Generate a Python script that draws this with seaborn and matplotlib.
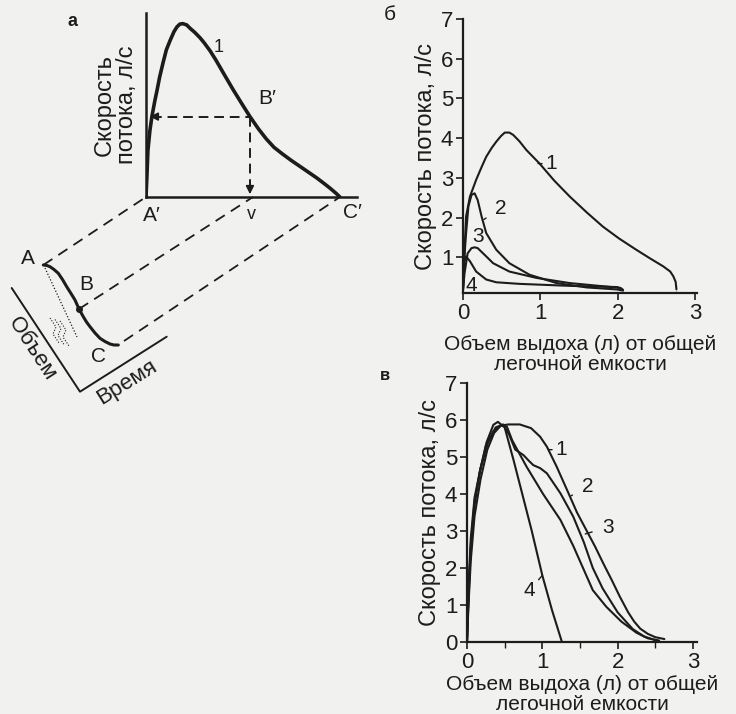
import numpy as np
import pandas as pd
import matplotlib
matplotlib.use("Agg")
import matplotlib.pyplot as plt
import seaborn as sns

# ---------------- data ----------------
# panel a : schematic flow-volume curve (relative units)
a_volume = [0, 0.005, 0.01, 0.02, 0.03, 0.045, 0.057, 0.07, 0.088, 0.105, 0.124, 0.145, 0.16, 0.175,
            0.19, 0.21, 0.227, 0.25, 0.278, 0.30, 0.33, 0.36, 0.40, 0.45, 0.50, 0.536, 0.58, 0.62, 0.66,
            0.706, 0.75, 0.80, 0.84, 0.88, 0.92, 0.95, 0.98, 1.0]
a_flow = [0, 0.12, 0.255, 0.36, 0.435, 0.52, 0.58, 0.65, 0.73, 0.80, 0.85, 0.90, 0.925, 0.94,
          0.942, 0.935, 0.917, 0.896, 0.866, 0.838, 0.795, 0.745, 0.672, 0.582, 0.497, 0.437, 0.37, 0.316, 0.27,
          0.232, 0.198, 0.162, 0.133, 0.104, 0.072, 0.047, 0.02, 0.0]
a_point_B = (0.536, 0.437)

# panel б : flow (l/s) vs expired volume (l), curves 1-4
b1_x = [0, 0.01, 0.02, 0.04, 0.09, 0.17, 0.24, 0.30, 0.37, 0.43, 0.49, 0.54, 0.60, 0.65, 0.73, 0.82,
        0.99, 1.18, 1.38, 1.60, 1.81, 2.02, 2.24, 2.42, 2.59, 2.68, 2.72, 2.75, 2.76, 2.76]
b1_y = [0.18, 0.7, 1.19, 2.03, 2.53, 2.95, 3.27, 3.53, 3.75, 3.91, 4.05, 4.14, 4.14, 4.08, 3.92, 3.70,
        3.36, 2.93, 2.53, 2.13, 1.77, 1.47, 1.19, 0.97, 0.77, 0.64, 0.52, 0.38, 0.27, 0.12]
b2_x = [0, 0.01, 0.04, 0.07, 0.11, 0.15, 0.19, 0.24, 0.30, 0.43, 0.60, 0.86, 1.21, 1.60, 1.99, 2.07]
b2_y = [0.18, 0.77, 1.61, 2.28, 2.57, 2.61, 2.44, 2.03, 1.61, 1.19, 0.85, 0.56, 0.35, 0.24, 0.19, 0.16]
b3_x = [0, 0.02, 0.06, 0.11, 0.15, 0.19, 0.28, 0.39, 0.60, 0.95, 1.38, 1.81, 2.03, 2.07]
b3_y = [0.18, 0.60, 1.10, 1.23, 1.25, 1.23, 1.06, 0.85, 0.64, 0.48, 0.35, 0.27, 0.23, 0.18]
b4_x = [0, 0.01, 0.04, 0.09, 0.17, 0.30, 0.43, 0.73, 1.38, 1.99, 2.05]
b4_y = [0.18, 0.85, 1.02, 0.90, 0.64, 0.44, 0.37, 0.33, 0.28, 0.25, 0.21]

# panel в : flow (l/s) vs expired volume (l), curves 1-4
c1_x = [0, 0.02, 0.05, 0.10, 0.17, 0.25, 0.35, 0.45, 0.55, 0.70, 0.85, 0.97, 1.06, 1.19, 1.33,
        1.46, 1.58, 1.70, 1.81, 1.92, 2.03, 2.14, 2.22, 2.30, 2.40, 2.50, 2.62]
c1_y = [0, 1.2, 2.5, 3.7, 4.6, 5.3, 5.7, 5.85, 5.88, 5.88, 5.78, 5.55, 5.28, 4.74, 4.10,
        3.50, 3.04, 2.58, 2.12, 1.68, 1.22, 0.80, 0.55, 0.36, 0.22, 0.13, 0.08]
c2_x = [0, 0.02, 0.05, 0.10, 0.18, 0.28, 0.38, 0.48, 0.56, 0.64, 0.70, 0.75, 0.82, 0.88, 0.97,
        1.06, 1.24, 1.41, 1.55, 1.67, 1.80, 2.00, 2.20, 2.35, 2.50]
c2_y = [0, 1.3, 2.6, 3.8, 4.7, 5.4, 5.8, 5.88, 5.60, 5.20, 5.12, 5.05, 4.90, 4.78, 4.70,
        4.56, 4.02, 3.39, 2.70, 2.00, 1.45, 0.80, 0.35, 0.15, 0.05]
c3_x = [0, 0.02, 0.05, 0.10, 0.18, 0.27, 0.36, 0.45, 0.53, 0.60, 0.79, 1.01, 1.24, 1.41, 1.54,
        1.67, 1.85, 2.05, 2.25, 2.40, 2.55]
c3_y = [0, 1.0, 2.2, 3.4, 4.4, 5.2, 5.65, 5.85, 5.82, 5.45, 4.74, 4.00, 3.30, 2.60, 2.00,
        1.40, 0.95, 0.55, 0.25, 0.10, 0.04]
c4_x = [0, 0.02, 0.05, 0.10, 0.17, 0.26, 0.35, 0.41, 0.50, 0.62, 0.74, 0.86, 1.00, 1.13, 1.26]
c4_y = [0, 1.5, 2.8, 3.9, 4.6, 5.4, 5.87, 5.95, 5.80, 4.90, 3.95, 3.00, 1.80, 0.85, 0.0]

flow_ticks_b = [1, 2, 3, 4, 5, 6, 7]
flow_ticks_c = [0, 1, 2, 3, 4, 5, 6, 7]
volume_ticks = [0, 1, 2, 3]
volume_minor_c = [0.5, 1.5, 2.5]

ylabel_a = "Скорость\nпотока, л/с"
ylabel_bc = "Скорость потока, л/с"
xlabel_bc = "Объем выдоха (л) от общей\nлегочной емкости"

# schematic volume-time trace (pixel frame of the sketch)
sk_curve_x = [43.3, 47, 50, 54, 58.3, 62.5, 66.7, 71, 75, 79, 83.3, 86.5, 90, 95, 100, 105, 110, 114, 118.3]
sk_curve_y = [265, 265.5, 266.7, 269.5, 273.3, 279.5, 286.7, 293.5, 300, 309, 316.7, 322, 326.7, 333, 338.3, 341.5, 344, 345, 345]
sk_axis_x = [11.7, 80, 166.7]
sk_axis_y = [288, 391.7, 336.7]

# ---------------- style ----------------
sns.set_theme(style="ticks")
plt.rcParams['font.family'] = ['Liberation Sans', 'DejaVu Sans']
INK = '#1c1c1c'
BG = '#f1f1ef'
FS_TICK = 16
FS_X = 15
FS_Y = 17
FS_LBL = 15
plt.rcParams.update({
    'axes.edgecolor': INK, 'xtick.color': INK, 'ytick.color': INK,
    'text.color': INK, 'axes.labelcolor': INK,
})

W, H = 736, 714
fig = plt.figure(figsize=(W / 100, H / 100), dpi=100, facecolor=BG)


def rect(l, t, r, b):
    return [l / W, 1 - b / H, (r - l) / W, (b - t) / H]


# overlay for schematic
ov = fig.add_axes([0, 0, 1, 1])
ov.set_xlim(0, W)
ov.set_ylim(H, 0)
ov.axis('off')
ov.patch.set_alpha(0)

# ---------------- panel a ----------------
axA = fig.add_axes(rect(146, 13, 357, 197))
axA.patch.set_alpha(0)
dfa = pd.DataFrame({'v': a_volume, 'f': a_flow})
sns.lineplot(data=dfa, x='v', y='f', sort=False, ax=axA, color=INK, lw=2.6)
axA.set_xlim(0, 1.088)
axA.set_ylim(0, 1)
sns.despine(ax=axA)
for s in ('left', 'bottom'):
    axA.spines[s].set_linewidth(1.8)
axA.set_xticks([])
axA.set_yticks([])
axA.set_xlabel('')
axA.set_ylabel(ylabel_a, fontsize=FS_Y, labelpad=6, linespacing=1.0)
bx, by = a_point_B
axA.plot([0.03, bx], [by, by], ls=(0, (5, 3)), color=INK, lw=1.4)
axA.plot([bx, bx], [by, 0.05], ls=(0, (5, 3)), color=INK, lw=1.4)
axA.annotate('', xy=(0.005, by), xytext=(0.06, by),
             arrowprops=dict(arrowstyle='-|>', color=INK, lw=1.2, mutation_scale=12))
axA.annotate('', xy=(bx, 0.0), xytext=(bx, 0.08),
             arrowprops=dict(arrowstyle='-|>', color=INK, lw=1.2, mutation_scale=12))
axA.text(0.375, 0.81, '1', fontsize=13, ha='center', va='center')
axA.text(bx + 0.09, by + 0.10, 'B′', fontsize=FS_LBL, ha='center', va='center')
axA.text(0.03, -0.05, 'A′', fontsize=FS_LBL, ha='center', va='top')
axA.text(bx + 0.01, -0.05, 'v', fontsize=13, ha='center', va='top')
axA.text(1.065, -0.03, 'C′', fontsize=FS_LBL, ha='center', va='top')
fig.text(73 / W, 1 - 22 / H, 'а', fontsize=13, ha='center', va='center', fontweight='bold')

# schematic
ov.plot(sk_axis_x, sk_axis_y, color=INK, lw=1.4)
ov.plot(sk_curve_x, sk_curve_y, color=INK, lw=2.2, solid_capstyle='round')
ov.plot([79], [309], 'o', color=INK, ms=4)
ov.plot([45, 77], [268, 337], ls=(0, (1, 1.5)), color=INK, lw=0.9)
for dx in (0, 5, 10):
    ov.plot([50 + dx, 56 + dx, 53 + dx, 59 + dx], [318 + dx * 0.3, 327 + dx * 0.3, 334 + dx * 0.3, 343 + dx * 0.3],
            ls=(0, (1, 1.5)), color=INK, lw=0.8)
dash = (0, (6, 4))
ov.plot([43.3, 146], [265, 197], ls=dash, color=INK, lw=1.3)
ov.plot([79, 253], [309, 197], ls=dash, color=INK, lw=1.3)
ov.plot([124, 340], [341, 197], ls=dash, color=INK, lw=1.3)
ov.text(28, 258, 'A', fontsize=FS_LBL, ha='center', va='center')
ov.text(86, 284, 'B', fontsize=FS_LBL, ha='center', va='center')
ov.text(99, 357, 'C', fontsize=FS_LBL, ha='center', va='center')
ov.text(32, 349, 'Объем', fontsize=16, ha='center', va='center', rotation=-57)
ov.text(127, 382, 'Время', fontsize=16, ha='center', va='center', rotation=32)


def style_axis(ax):
    sns.despine(ax=ax)
    for s in ('left', 'bottom'):
        ax.spines[s].set_linewidth(1.6)
    ax.tick_params(axis='both', which='major', direction='out', length=5, width=1.2,
                   labelsize=FS_TICK, pad=2)
    ax.patch.set_alpha(0)


# ---------------- panel б ----------------
axB = fig.add_axes(rect(463, 19, 697, 293))
for xs, ys in ((b1_x, b1_y), (b2_x, b2_y), (b3_x, b3_y), (b4_x, b4_y)):
    sns.lineplot(x=xs, y=ys, sort=False, ax=axB, color=INK, lw=1.5)
axB.set_xlim(0, 3.026)
axB.set_ylim(0.1, 7)
axB.set_xticks(volume_ticks)
axB.set_yticks(flow_ticks_b)
style_axis(axB)
axB.set_ylabel(ylabel_bc, fontsize=FS_Y, labelpad=3)
axB.set_xlabel(xlabel_bc, fontsize=FS_X, labelpad=8, linespacing=1.05)
axB.annotate('1', xy=(0.97, 3.36), xytext=(1.14, 3.35), fontsize=FS_LBL, ha='center', va='center',
             arrowprops=dict(arrowstyle='-', color=INK, lw=1.0, shrinkA=5, shrinkB=0))
axB.annotate('2', xy=(0.27, 1.95), xytext=(0.49, 2.24), fontsize=FS_LBL, ha='center', va='center',
             arrowprops=dict(arrowstyle='-', color=INK, lw=1.0, shrinkA=5, shrinkB=0))
axB.text(0.19, 1.52, '3', fontsize=FS_LBL, ha='center', va='center')
axB.text(0.11, 0.30, '4', fontsize=FS_LBL, ha='center', va='center')
fig.text(390 / W, 1 - 14 / H, 'б', fontsize=FS_LBL, ha='center', va='center')

# ---------------- panel в ----------------
axC = fig.add_axes(rect(467, 383, 697, 642))
for xs, ys in ((c1_x, c1_y), (c2_x, c2_y), (c3_x, c3_y), (c4_x, c4_y)):
    sns.lineplot(x=xs, y=ys, sort=False, ax=axC, color=INK, lw=1.5)
axC.set_xlim(0, 3.053)
axC.set_ylim(0, 7)
axC.set_xticks(volume_ticks)
axC.set_xticks(volume_minor_c, minor=True)
axC.set_yticks(flow_ticks_c)
style_axis(axC)
axC.tick_params(axis='x', which='minor', direction='out', length=4, width=1.0)
axC.set_ylabel(ylabel_bc, fontsize=FS_Y, labelpad=3)
axC.set_xlabel(xlabel_bc, fontsize=FS_X, labelpad=2, linespacing=1.05)
axC.annotate('1', xy=(1.08, 5.2), xytext=(1.25, 5.19), fontsize=FS_LBL, ha='center', va='center',
             arrowprops=dict(arrowstyle='-', color=INK, lw=1.0, shrinkA=5, shrinkB=0))
axC.annotate('2', xy=(1.38, 3.95), xytext=(1.60, 4.19), fontsize=FS_LBL, ha='center', va='center',
             arrowprops=dict(arrowstyle='-', color=INK, lw=1.0, shrinkA=5, shrinkB=0))
axC.annotate('3', xy=(1.57, 2.92), xytext=(1.87, 3.10), fontsize=FS_LBL, ha='center', va='center',
             arrowprops=dict(arrowstyle='-', color=INK, lw=1.0, shrinkA=5, shrinkB=0))
axC.annotate('4', xy=(1.00, 1.80), xytext=(0.83, 1.40), fontsize=FS_LBL, ha='center', va='center',
             arrowprops=dict(arrowstyle='-', color=INK, lw=1.0, shrinkA=5, shrinkB=0))
fig.text(385 / W, 1 - 375 / H, 'в', fontsize=12, ha='center', va='center', fontweight='bold')

fig.savefig('out.png', dpi=100, facecolor=BG)
